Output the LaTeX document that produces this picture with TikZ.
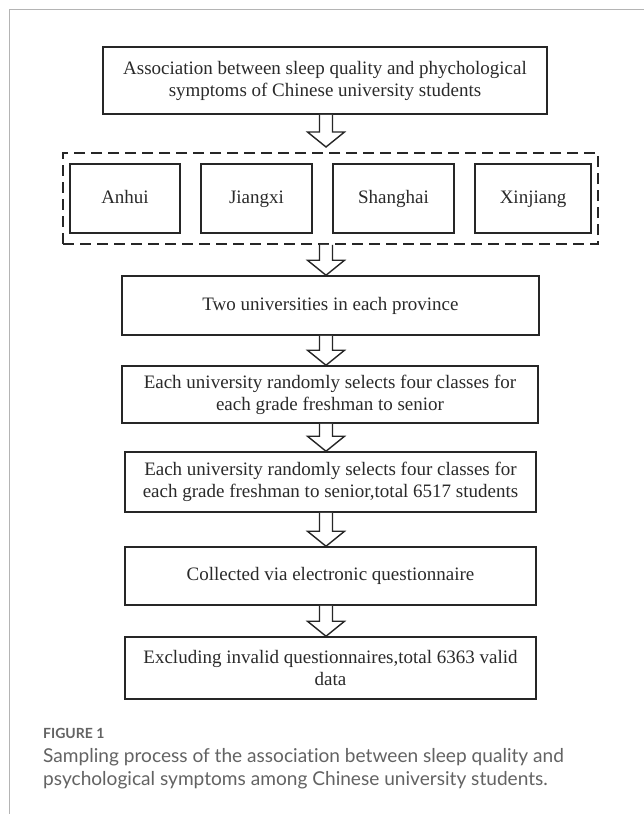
\documentclass[tikz,border=0pt]{standalone}
\usepackage{fontspec}
\setmainfont{Liberation Serif}
\newfontfamily\capfont[Ligatures=NoCommon]{Lato}
\usetikzlibrary{calc}
\definecolor{linec}{HTML}{262626}
\definecolor{txtc}{HTML}{2A2A2A}
\definecolor{framec}{HTML}{B4B4B4}
\definecolor{capc}{HTML}{636363}
\tikzset{
  box/.style={draw=linec, line width=1.5pt, fill=white, text=txtc, align=center, inner sep=0pt,
    font=\fontsize{19}{22}\selectfont},
  pbox/.style={box, text height=13pt, text depth=4pt},
  dbox/.style={draw=linec, line width=1.8pt, dash pattern=on 11pt off 6pt, inner sep=0pt},
  blockarrow/.style={draw=linec, line width=1.4pt, fill=white, line join=miter},
}
\newcommand{\blkarrow}[2]{%
  \draw[blockarrow] let \p1=(#1), \p2=(#2) in
    (319.5pt,\y1) -- (319.5pt,\y2+15pt) -- (307.5pt,\y2+15pt) -- (326pt,\y2)
    -- (344.5pt,\y2+15pt) -- (332.5pt,\y2+15pt) -- (332.5pt,\y1);}
\begin{document}
\begin{tikzpicture}[x=1pt,y=-1pt]
\useasboundingbox (0,0) rectangle (644,814);
\fill[white] (0,0) rectangle (644,814);
% frame
\draw[framec, line width=1pt] (644,9) -- (9.5,9) -- (9.5,814);
% boxes
\node[box, minimum width=444pt, minimum height=67pt] (b1) at (325,80.5)
  {Association between sleep quality and phychological\\symptoms of Chinese university students};
\node[dbox, minimum width=535pt, minimum height=91pt] (prov) at (330.5,198.5) {};
\node[pbox, minimum width=110pt, minimum height=69pt] (anhui) at (125,198.5) {Anhui};
\node[pbox, minimum width=111pt, minimum height=69pt] (jiangxi) at (256.5,198.5) {Jiangxi};
\node[pbox, minimum width=121pt, minimum height=69pt] (shanghai) at (393.5,198.5) {Shanghai};
\node[pbox, minimum width=116pt, minimum height=69pt] (xinjiang) at (533,198.5) {Xinjiang};
\node[pbox, minimum width=417pt, minimum height=59pt] (two) at (330.5,305.5) {Two universities in each province};
\node[box, minimum width=416pt, minimum height=57pt] (each) at (330,394.5)
  {Each university randomly selects four classes for\\each grade freshman to senior};
\node[box, minimum width=411pt, minimum height=60pt] (total) at (330.5,482)
  {Each university randomly selects four classes for\\each grade freshman to senior,total 6517 students};
\node[pbox, minimum width=411pt, minimum height=58pt] (coll) at (330.5,576) {Collected via electronic questionnaire};
\node[box, minimum width=411pt, minimum height=62pt] (excl) at (330.5,668)
  {Excluding invalid questionnaires,total 6363 valid\\data};
% arrows
\coordinate (t1) at (326,147);
\blkarrow{b1.south}{t1}
\blkarrow{prov.south}{two.north}
\blkarrow{two.south}{each.north}
\blkarrow{each.south}{total.north}
\blkarrow{total.south}{coll.north}
\blkarrow{coll.south}{excl.north}
% caption
\node[anchor=base west, inner sep=0pt, text=capc, font=\capfont\bfseries\fontsize{14}{16}\selectfont] (fig) at (43,738) {FIGURE 1};
\node[anchor=base west, inner sep=0pt, text=capc, font=\capfont\fontsize{19.1}{23}\selectfont] (cap1) at (43,762)
  {Sampling process of the association between sleep quality and};
\node[anchor=base west, inner sep=0pt, text=capc, font=\capfont\fontsize{19.1}{23}\selectfont] (cap2) at (43,785)
  {psychological symptoms among Chinese university students.};
\end{tikzpicture}
\end{document}
